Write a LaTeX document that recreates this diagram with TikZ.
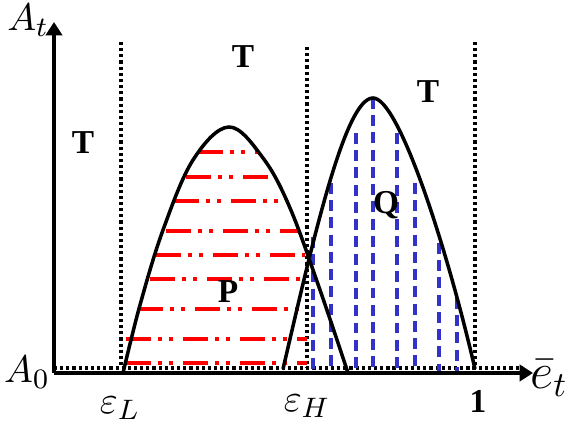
\documentclass[tikz,border=0pt]{standalone}
\usepackage{fontspec}
\setmainfont{Liberation Serif}
\definecolor{qblue}{RGB}{50,50,200}
\usetikzlibrary{arrows.meta}

\begin{document}
\begin{tikzpicture}[x=0.01cm, y=-0.01cm,
  axis/.style={line width=0.95pt, -{Triangle[width=4.6pt,length=3.8pt]}},
  guide/.style={line width=0.9pt, dash pattern=on 0.9pt off 0.85pt},
  curve/.style={line width=1pt},
  hatchP/.style={red, line width=1.05pt, dash pattern=on 7pt off 2.2pt on 1.1pt off 2pt on 1.1pt off 2.8pt},
  hatchQ/.style={qblue, line width=1.05pt, dash pattern=on 3.1pt off 1.8pt},
  region/.style={font=\fontsize{9.5}{11}\selectfont\bfseries},
  tick/.style={font=\fontsize{10.95}{13}\selectfont}
]
\useasboundingbox (0,0) rectangle (565,425);

% axes and guides
\coordinate (O) at (54,373);
\coordinate (ytip) at (54,22);
\coordinate (xtip) at (533,373);
\draw[guide] (54,368) -- (522,368);
\draw[guide] (121,42) -- (121,368);
\draw[guide] (307,47) -- (307,368);
\draw[guide] (475,42) -- (475,368);

% region P
\foreach \y/\xa/\xb in {152/198/258, 177/186/268, 201/174/280, 231/166/300,
  255/156/305, 279/150/302, 309/138/300, 339/126/307, 363/126/307}
  \draw[hatchP] (\xa,\y) -- (\xb,\y);

% region Q
\foreach \x/\ya/\yb in {313/237/372, 331/183/366, 356/133/369, 373/98/369,
  397/133/369, 415/183/366, 439/243/376, 457/298/374}
  \draw[hatchQ] (\x,\ya) -- (\x,\yb);

\draw[curve] plot[smooth, tension=0.6] coordinates {(123,373) (140,305) (163,230)
  (193,160) (229,127) (263,158) (290,208) (320,290) (348,373)};
\draw[curve] (283,369) .. controls (313,240) and (345,98) .. (373,98)
  .. controls (398,98) and (445,240) .. (475,369);

\draw[axis] (O) -- (ytip);
\draw[axis] (O) -- (xtip);

\node[tick] (At) at (28,20) {$A_t$};
\node[tick] (A0) at (27,372) {$A_0$};
\node[tick] (eL) at (120,408) {$\varepsilon_L$};
\node[tick] (eH) at (307,406) {$\varepsilon_H$};
\node[region] (one) at (478,401) {1};
\node[font=\fontsize{14.4}{17}\selectfont] (et) at (549,378) {$\bar{e}_t$};
\node[region] (T1) at (83,143) {T};
\node[region] (T2) at (243,57) {T};
\node[region] (T3) at (428,92) {T};
\node[region] (P) at (228,292) {P};
\node[region] (Q) at (386,205) {Q};
\end{tikzpicture}
\end{document}
